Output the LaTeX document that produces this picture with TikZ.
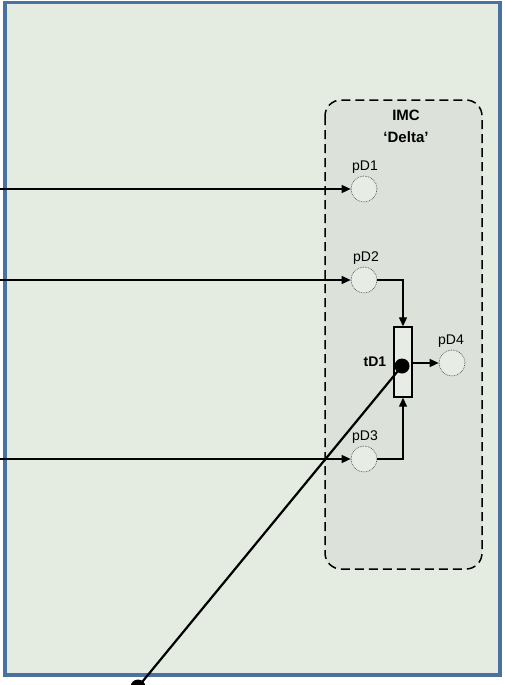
\documentclass[tikz,border=0pt]{standalone}
\usepackage{fontspec}
\setmainfont{Liberation Sans}
\usetikzlibrary{arrows.meta}
\definecolor{bgc}{HTML}{E4EBE1}
\definecolor{framec}{HTML}{4A72A0}
\definecolor{imcc}{HTML}{DCE1DA}
\definecolor{placec}{HTML}{E7EDE4}
\tikzset{
  place/.style={circle,draw=black!70,densely dotted,line width=0.7pt,fill=placec,minimum size=26pt,inner sep=0pt},
  trans/.style={rectangle,draw=black,line width=1.4pt,fill=placec,minimum width=18pt,minimum height=70pt,inner sep=0pt},
  lbl/.style={font=\fontsize{14}{16}\selectfont,inner sep=0pt,text=black},
  blbl/.style={font=\bfseries\fontsize{14}{16}\selectfont,inner sep=0pt,text=black},
  ttl/.style={font=\bfseries\fontsize{15}{22}\selectfont,inner sep=0pt,text=black,align=center},
  arc/.style={line width=1.3pt,-{Triangle[length=9pt,width=8pt]}},
  dotn/.style={circle,fill=black,minimum size=15pt,inner sep=0pt},
  token/.style={line width=2.2pt}
}
\begin{document}
\begin{tikzpicture}[x=1pt,y=-1pt]
\useasboundingbox (0,0) rectangle (505,685);
\fill[white] (0,0) rectangle (505,685);
\draw[framec,line width=3.5pt,fill=bgc] (5,2.5) rectangle (500,675);
\draw[line width=1.5pt,dash pattern=on 9pt off 5pt,fill=imcc,rounded corners=16pt] (325,100) rectangle (482,569);
\node[ttl] (title) at (406,126) {IMC\\‘Delta’};
\node[place] (pD1) at (364,189) {};
\node[place] (pD2) at (364,280) {};
\node[place] (pD3) at (364,459) {};
\node[place] (pD4) at (452,363) {};
\node[trans] (tD1) at (403,362) {};
\node[lbl] (lpD1) at (365,167) {pD1};
\node[lbl] (lpD2) at (366,258) {pD2};
\node[lbl] (lpD3) at (365,437) {pD3};
\node[lbl] (lpD4) at (451,341) {pD4};
\node[blbl] (ltD1) at (375,362) {tD1};
\coordinate (in1) at (0,189);
\coordinate (in2) at (0,280);
\coordinate (in3) at (0,459);
\draw[arc] (in1) -- (pD1);
\draw[arc] (in2) -- (pD2);
\draw[arc] (in3) -- (pD3);
\draw[arc] (pD2.east) -| (tD1.north);
\draw[arc] (pD3.east) -| (tD1.south);
\draw[arc] (tD1.east |- pD4.west) -- (pD4.west);
\node[dotn] (d1) at (402,366) {};
\node[dotn] (d2) at (138,687) {};
\draw[token] (d1.center) -- (d2.center);
\end{tikzpicture}
\end{document}
